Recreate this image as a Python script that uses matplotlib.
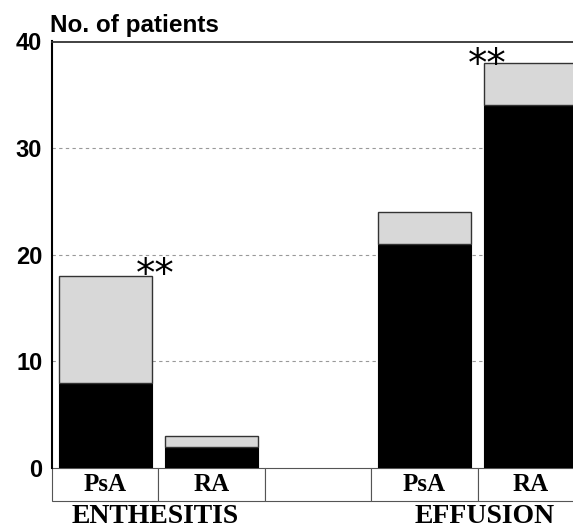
import matplotlib
matplotlib.use("Agg")
import matplotlib.pyplot as plt
import numpy as np

# Data
slot_labels = ["PsA", "RA", "", "PsA", "RA"]
black_values = [8, 2, 0, 21, 34]        # dark (lower) segment
total_values = [18, 3, 0, 24, 38]       # full bar height
group_labels = ["ENTHESITIS", "EFFUSION"]
group_positions = [0.47, 3.57]
star_positions = [0.47, 3.59]
star_values = [17.1, 36.8]
yticks = [0, 10, 20, 30, 40]

fig = plt.figure(figsize=(5.73, 5.29), dpi=100)
ax = fig.add_axes([52/573, 61/529, 532/573, 426.5/529])

x = np.arange(len(slot_labels))
grey_values = [t - b for t, b in zip(total_values, black_values)]
width = 0.874
for xi, b, g, t in zip(x, black_values, grey_values, total_values):
    if t <= 0:
        continue
    ax.bar(xi, b, width=width, color="black", edgecolor="black", linewidth=0.8, zorder=3)
    ax.bar(xi, g, bottom=b, width=width, color="#d8d8d8", edgecolor="#333333", linewidth=1.0, zorder=3)

ax.set_xlim(-0.5, 4.5)
ax.set_ylim(0, 40)
ax.set_yticks(yticks)
ax.set_yticklabels([str(v) for v in yticks], fontfamily="Liberation Sans", fontweight="bold", fontsize=17)
ax.tick_params(axis="y", length=0, pad=7)
ax.set_xticks([])

for yv in [10, 20, 30]:
    ax.axhline(yv, color="#999999", linestyle=(0, (3, 3)), linewidth=0.8, zorder=1)

for s in ["right", "bottom"]:
    ax.spines[s].set_visible(False)
ax.spines["left"].set_linewidth(1.5)
ax.spines["top"].set_linewidth(1.3)
ax.spines["top"].set_color("#333333")

# table of slot labels
tbl_h = 33/426.5
tbl = ax.table(cellText=[slot_labels], cellLoc="center", bbox=[0, -tbl_h, 1, tbl_h])
tbl.auto_set_font_size(False)
for (r, c), cell in tbl.get_celld().items():
    cell.set_edgecolor("#555555")
    cell.set_linewidth(0.8)
    cell.get_text().set_fontfamily("Liberation Serif")
    cell.get_text().set_fontweight("bold")
    cell.get_text().set_fontsize(18)

trans = matplotlib.transforms.blended_transform_factory(ax.transData, fig.transFigure)
for gx, gl in zip(group_positions, group_labels):
    ax.text(gx, 6/529, gl, transform=trans, ha="center", va="baseline",
            fontfamily="Liberation Serif", fontweight="bold", fontsize=20)

for sx, sy in zip(star_positions, star_values):
    ax.text(sx, sy, "**", ha="center", va="baseline", fontfamily="DejaVu Sans",
            fontsize=28, zorder=5)

fig.text(50/573, 1 - 32/529, "No. of patients", ha="left", va="baseline",
         fontfamily="Liberation Sans", fontweight="bold", fontsize=17.5)

fig.savefig("out.png", dpi=100)
